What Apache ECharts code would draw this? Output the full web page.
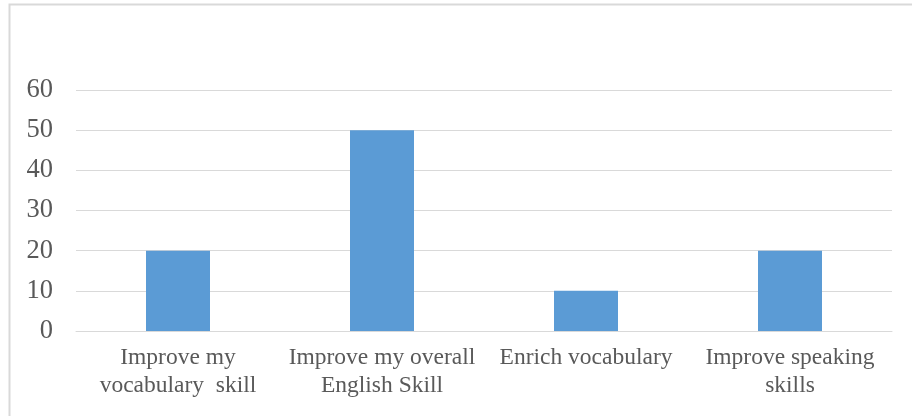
<!DOCTYPE html>
<html>
<head>
<meta charset="utf-8">
<script src="https://cdn.jsdelivr.net/npm/echarts@6/dist/echarts.min.js"></script>
<style>
html,body{margin:0;padding:0;background:#fff;}
#c{width:912px;height:416px;}
</style>
</head>
<body>
<div id="c"></div>
<script>
const categories = ["Improve my\nvocabulary  skill", "Improve my overall\nEnglish Skill", "Enrich vocabulary", "Improve speaking\nskills"];
const values = [20, 50, 10, 20];
const yTicks = {min: 0, max: 60, interval: 10};

const chart = echarts.init(document.getElementById('c'), null, {renderer: 'canvas'});
chart.setOption({
  animation: false,
  backgroundColor: '#ffffff',
  graphic: [{
    type: 'rect',
    shape: {x: 9.5, y: 4.5, width: 920, height: 430},
    style: {fill: 'none', stroke: '#d9d9d9', lineWidth: 2},
    silent: true
  }],
  grid: {left: 76, right: 20, top: 90, bottom: 85, containLabel: false},
  xAxis: {
    type: 'category',
    data: categories,
    axisLine: {show: true, lineStyle: {color: '#d9d9d9', width: 1}},
    axisTick: {show: false},
    axisLabel: {
      interval: 0,
      color: '#595959',
      fontFamily: 'Liberation Serif',
      fontSize: 23.5,
      lineHeight: 28,
      margin: 13
    }
  },
  yAxis: {
    type: 'value',
    min: yTicks.min,
    max: yTicks.max,
    interval: yTicks.interval,
    axisLine: {show: false},
    axisTick: {show: false},
    splitLine: {lineStyle: {color: '#d9d9d9', width: 1}},
    axisLabel: {
      color: '#595959',
      fontFamily: 'Liberation Serif',
      fontSize: 26.5,
      margin: 23
    }
  },
  series: [{
    type: 'bar',
    data: values,
    barWidth: 64,
    itemStyle: {color: '#5b9bd5'}
  }]
});
</script>
</body>
</html>
